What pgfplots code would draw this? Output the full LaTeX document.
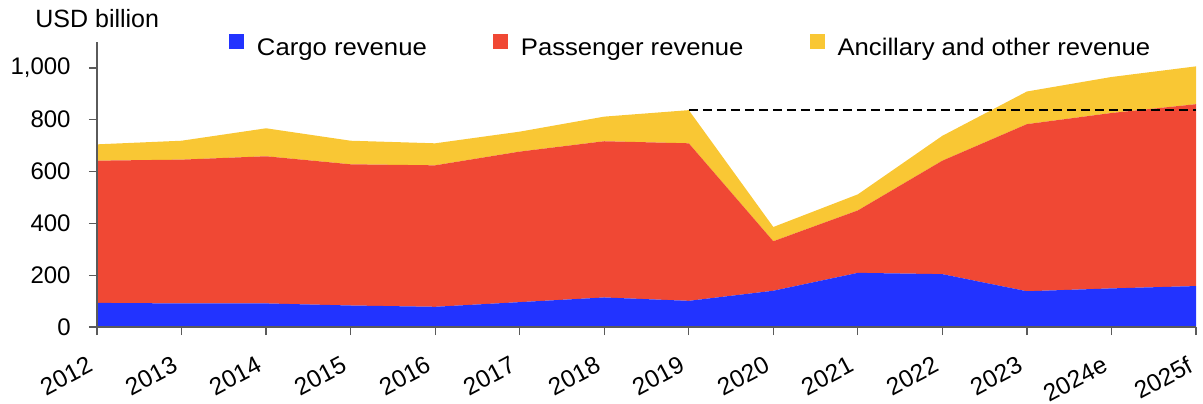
\documentclass[border=0pt]{standalone}
\usepackage{pgfplots}
\pgfplotsset{compat=1.18}
\usepackage{fontspec}
\setmainfont{Liberation Sans}
\newfontfamily\legfont{Liberation Sans}[FakeStretch=1.07]
\definecolor{cargo}{RGB}{34,51,255}
\definecolor{pass}{RGB}{240,72,52}
\definecolor{anc}{RGB}{249,199,52}
\definecolor{axgray}{RGB}{90,90,90}
\begin{document}
\begin{tikzpicture}
\begin{axis}[
  scale only axis,
  width=549.5pt, height=142.5pt,
  xmin=0, xmax=13, ymin=0, ymax=1100,
  axis x line*=bottom, axis y line*=left,
  axis line style={axgray, line width=0.6pt},
  tick style={axgray, line width=0.6pt},
  tick align=outside,
  major tick length=4pt,
  xtick={0,...,13},
  xticklabels={2012,2013,2014,2015,2016,2017,2018,2019,2020,2021,2022,2023,2024e,2025f},
  xticklabel style={xshift=-5pt, yshift=-10pt, rotate=28, anchor=north east, font=\fontsize{12.2}{14}\selectfont, inner sep=0pt},
  ytick={0,200,400,600,800,1000},
  yticklabel style={font=\fontsize{12}{14}\selectfont, inner sep=0pt, anchor=east, xshift=-9pt},
  /pgf/number format/assume math mode=true,
  /pgf/number format/1000 sep={,},
  scaled y ticks=false,
  stack plots=y,
  area style,
  legend style={draw=none, fill=none, inner sep=0pt, outer sep=0pt,
    at={(axis description cs:0.1201,0.984)}, anchor=west,
    font=\legfont\fontsize{12}{14}\selectfont, legend columns=3,
    nodes={inner sep=0pt},
    /tikz/every even column/.append style={column sep=33pt},
    /tikz/every odd column/.append style={column sep=6.5pt}},
  legend image code/.code={\fill[#1] (0pt,-0.5pt) rectangle (7.5pt,7pt);},
  clip=false,
]
\addplot[draw=none, fill=cargo] coordinates {
(0,93) (1,91) (2,91) (3,83) (4,78) (5,96) (6,114) (7,101) (8,140) (9,209) (10,204) (11,138) (12,149) (13,158)} \closedcycle;
\addlegendentry{Cargo revenue}
\addplot[draw=none, fill=pass] coordinates {
(0,549) (1,555) (2,568) (3,545) (4,546) (5,581) (6,603) (7,608) (8,191) (9,241) (10,438) (11,645) (12,677) (13,702)} \closedcycle;
\addlegendentry{Passenger revenue}
\addplot[draw=none, fill=anc] coordinates {
(0,63) (1,73) (2,108) (3,91) (4,85) (5,77) (6,95) (7,128) (8,55) (9,62) (10,96) (11,126) (12,139) (13,146)} \closedcycle;
\addlegendentry{Ancillary and other revenue}
\coordinate (bl) at (rel axis cs:0,0);
\coordinate (tr) at (rel axis cs:1,1);
\end{axis}
\begin{axis}[
  scale only axis,
  width=549.5pt, height=142.5pt,
  xmin=0, xmax=13, ymin=0, ymax=1100,
  hide axis, clip=false,
]
\addplot[black, line width=0.9pt, dash pattern=on 4.5pt off 2.5pt] coordinates {(7,838) (13,838)};
\node[anchor=base west, inner sep=0pt, font=\fontsize{12.5}{14}\selectfont] at (rel axis cs:0,1) [xshift=-31pt, yshift=7.5pt] {USD billion};
\end{axis}
\pgfresetboundingbox
\path ([xshift=-48.5pt,yshift=-38pt]bl) rectangle ([xshift=3.5pt,yshift=21pt]tr);
\end{tikzpicture}
\end{document}
